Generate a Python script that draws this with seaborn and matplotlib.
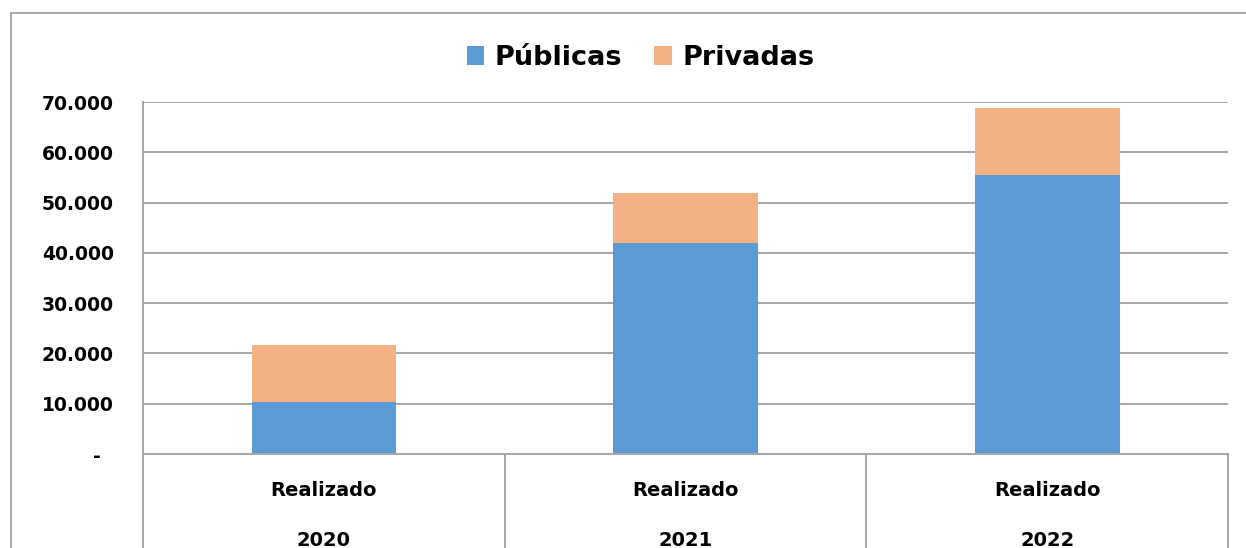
import matplotlib.pyplot as plt
import matplotlib.transforms as mtransforms
from matplotlib.patches import Rectangle
import seaborn as sns
import pandas as pd

# dados
anos = ["2020", "2021", "2022"]
publicas = [10300, 42000, 55500]
privadas = [11300, 10000, 13300]
yticks = [0, 10000, 20000, 30000, 40000, 50000, 60000, 70000]

df = pd.DataFrame({"ano": anos, "Públicas": publicas, "Privadas": privadas})
df["total"] = df["Públicas"] + df["Privadas"]

sns.set_theme(style="white")
plt.rcParams["font.family"] = ["DejaVu Sans"]
plt.rcParams["font.weight"] = "bold"
plt.rcParams["text.color"] = "black"
plt.rcParams["ytick.labelcolor"] = "black"

AZUL = "#5B9BD5"
LARANJA = "#F4B183"
CINZA = "#A6A6A6"

fig = plt.figure(figsize=(12.46, 5.48), dpi=100)
ax = fig.add_axes([143 / 1246, 1 - 454 / 548, (1228 - 143) / 1246, (454 - 102) / 548])

sns.barplot(data=df, x="ano", y="total", color=LARANJA, width=0.4, ax=ax,
            label="Privadas", saturation=1, linewidth=0, edgecolor="none")
sns.barplot(data=df, x="ano", y="Públicas", color=AZUL, width=0.4, ax=ax,
            label="Públicas", saturation=1, linewidth=0, edgecolor="none")

handles, labels = ax.get_legend_handles_labels()
if ax.get_legend() is not None:
    ax.get_legend().remove()

ax.set_ylim(0, 70000)
ax.set_xlim(-0.5, 2.5)
ax.set_yticks(yticks)
ax.set_yticklabels([f"{v:,.0f}".replace(",", ".") if v else "-  " for v in yticks])
ax.set_axisbelow(True)
ax.yaxis.grid(True, color=CINZA, linewidth=1.4)
ax.tick_params(axis="y", length=9, width=1.4, color=CINZA, pad=12, labelsize=13.5,
               labelcolor="black")
ax.tick_params(axis="x", length=0, labelbottom=False)
for s in ["top", "right"]:
    ax.spines[s].set_visible(False)
for s in ["left", "bottom"]:
    ax.spines[s].set_color(CINZA)
    ax.spines[s].set_linewidth(1.4)
ax.set_xlabel("")
ax.set_ylabel("")

# eixo de categorias em dois níveis (estilo Excel)
trans = mtransforms.blended_transform_factory(ax.transData, ax.transAxes)
for xb in [-0.5, 0.5, 1.5, 2.5]:
    ax.plot([xb, xb], [0, -0.4], transform=trans, color=CINZA, lw=1.4, clip_on=False)
for i, ano in enumerate(anos):
    ax.text(i, -0.105, "Realizado", transform=trans, ha="center", va="center",
            fontsize=14, fontweight="bold", color="black")
    ax.text(i, -0.245, ano, transform=trans, ha="center", va="center",
            fontsize=14, fontweight="bold", color="black")

order = [labels.index("Públicas"), labels.index("Privadas")]
fig.legend([handles[k] for k in order], [labels[k] for k in order],
           loc="center", bbox_to_anchor=(640.5 / 1246, 1 - 58 / 548), ncol=2, frameon=False,
           prop={"size": 19.5, "weight": "bold"}, handlelength=0.65, handleheight=0.65,
           columnspacing=1.2, handletextpad=0.37, labelcolor="black")

# moldura externa do gráfico
fig.patches.append(Rectangle((11 / 1246, -0.1), 1.2, 1 - 13 / 548 + 0.1,
                             transform=fig.transFigure, fill=False,
                             edgecolor=CINZA, lw=1.4))

fig.savefig("out.png", dpi=100, facecolor="white")
